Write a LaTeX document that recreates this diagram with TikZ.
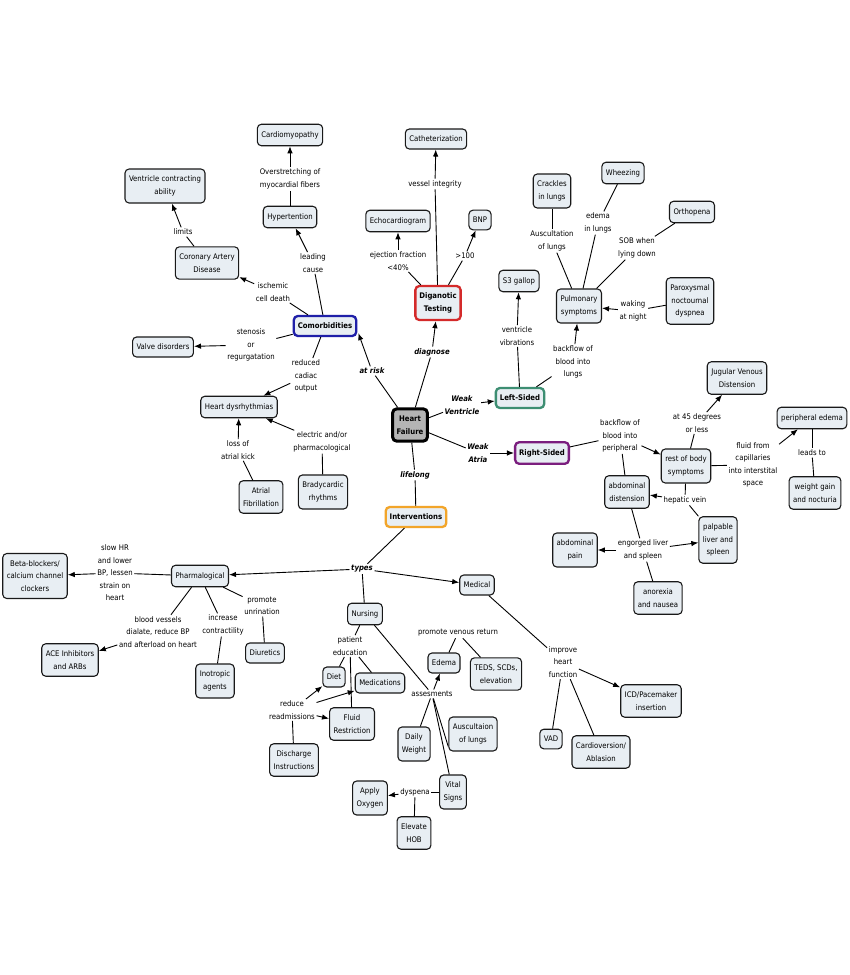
\documentclass[tikz,border=0pt]{standalone}
\usepackage{fontspec}
\setmainfont{DejaVu Sans Condensed}
\usetikzlibrary{arrows.meta}
\definecolor{nodefill}{HTML}{E8EEF3}
\definecolor{cblue}{HTML}{1F1FA8}
\definecolor{cred}{HTML}{D42A2A}
\definecolor{cgreen}{HTML}{3D8E72}
\definecolor{cpurple}{HTML}{7B1E7E}
\definecolor{corange}{HTML}{F2A52A}
\definecolor{hfgray}{HTML}{B4B4B4}
\begin{document}
\begin{tikzpicture}[x=1pt,y=-1pt,
 concept/.style={draw=black!90, line width=1.1pt, rounded corners=4pt, fill=nodefill, align=center,
   font=\fontsize{7.7}{12.5}\selectfont, inner xsep=4pt, inner ysep=7pt},
 main/.style={concept, line width=2.3pt, font=\bfseries\fontsize{7.7}{12.5}\selectfont},
 lab/.style={align=center, font=\fontsize{7.7}{12.5}\selectfont, inner sep=1.5pt},
 blab/.style={lab, font=\bfseries\itshape\fontsize{7.7}{12.5}\selectfont},
 conn/.style={line width=0.9pt},
 arr/.style={conn, -{Latex[length=7pt,width=5.5pt]}}
]
\path[use as bounding box, fill=white] (0,0) rectangle (850,975);

% concept nodes
\node[concept] (cardio) at (290,135) {Cardiomyopathy};
\node[concept] (vca) at (165,186) {Ventricle contracting\\ability};
\node[concept] (hyper) at (290,217) {Hypertention};
\node[concept] (cad) at (207,263) {Coronary Artery\\Disease};
\node[main, draw=cblue] (comor) at (325,326) {Comorbidities};
\node[concept] (valve) at (163,347) {Valve disorders};
\node[concept] (dys) at (239,407) {Heart dysrhythmias};
\node[concept] (afib) at (261,497) {Atrial\\Fibrillation};
\node[concept] (brady) at (323,492) {Bradycardic\\rhythms};
\node[concept] (cath) at (436,139) {Catheterization};
\node[concept] (echo) at (398,221) {Echocardiogram};
\node[concept] (bnp) at (480,220) {BNP};
\node[main, draw=cred] (diag) at (438,303) {Diganotic\\Testing};
\node[main, draw=black, line width=3pt, fill=hfgray] (hf) at (410,425) {Heart\\Failure};
\node[main, draw=cgreen] (left) at (520,398) {Left-Sided};
\node[main, draw=cpurple] (right) at (542,453) {Right-Sided};
\node[main, draw=corange] (inter) at (416,517) {Interventions};
\node[concept] (s3) at (519,281) {S3 gallop};
\node[concept] (crackles) at (552,191) {Crackles\\in lungs};
\node[concept] (wheez) at (623,173) {Wheezing};
\node[concept] (ortho) at (692,212) {Orthopena};
\node[concept] (pulm) at (579,306) {Pulmonary\\symptoms};
\node[concept] (parox) at (690,301) {Paroxysmal\\noctournal\\dyspnea};
\node[concept] (jvd) at (737,378) {Jugular Venous\\Distension};
\node[concept] (pedema) at (812,418) {peripheral edema};
\node[concept] (wgain) at (815,493) {weight gain\\and nocturia};
\node[concept] (rest) at (686,466) {rest of body\\symptoms};
\node[concept] (abdist) at (627,492) {abdominal\\distension};
\node[concept] (palp) at (718,540) {palpable\\liver and\\spleen};
\node[concept] (abpain) at (575,550) {abdominal\\pain};
\node[concept] (anorex) at (658,598) {anorexia\\and nausea};
\node[concept] (pharm) at (200,576) {Pharmalogical};
\node[concept] (beta) at (35,576) {Beta-blockers/\\calcium channel\\clockers};
\node[concept] (ace) at (70,660) {ACE Inhibitors\\and ARBs};
\node[concept] (diur) at (265,653) {Diuretics};
\node[concept] (inot) at (215,681) {Inotropic\\agents};
\node[concept] (nurs) at (365,614) {Nursing};
\node[concept] (med) at (477,585) {Medical};
\node[concept] (diet) at (334,677) {Diet};
\node[concept] (meds) at (380,683) {Medications};
\node[concept] (fluid) at (352,724) {Fluid\\Restriction};
\node[concept] (disch) at (294,760) {Discharge\\Instructions};
\node[concept] (edema) at (444,663) {Edema};
\node[concept] (teds) at (496,674) {TEDS, SCDs,\\elevation};
\node[concept] (daily) at (414,744) {Daily\\Weight};
\node[concept] (ausc) at (473,734) {Auscultaion\\of lungs};
\node[concept] (vital) at (453,792) {Vital\\Signs};
\node[concept] (oxy) at (370,798) {Apply\\Oxygen};
\node[concept] (hob) at (414,833) {Elevate\\HOB};
\node[concept] (icd) at (651,701) {ICD/Pacemaker\\insertion};
\node[concept] (vad) at (551,739) {VAD};
\node[concept] (cardv) at (601,752) {Cardioversion/\\Ablasion};

% link labels
\node[lab] (l1) at (290,179) {Overstretching of\\myocardial fibers};
\node[lab] (l2) at (183,232) {limits};
\node[lab] (l3) at (313,263) {leading\\cause};
\node[lab] (l4) at (273,292) {ischemic\\cell death};
\node[lab] (l5) at (251,345) {stenosis\\or\\regurgatation};
\node[lab] (l6) at (306,376) {reduced\\cadiac\\output};
\node[lab] (l7) at (238,450) {loss of\\atrial kick};
\node[lab] (l8) at (322,442) {electric and/or\\pharmacological};
\node[blab] (l9) at (372,371) {at risk};
\node[lab] (l10) at (435,184) {vessel integrity};
\node[lab] (l11) at (398,261) {ejection fraction\\<40\%};
\node[lab] (l12) at (465,256) {>100};
\node[blab] (l13) at (432,352) {diagnose};
\node[blab] (l14) at (462,405) {Weak\\Ventricle};
\node[blab] (l15) at (478,453) {Weak\\Atria};
\node[blab] (l16) at (415,475) {lifelong};
\node[lab] (l17) at (517,336) {ventricle\\vibrations};
\node[lab] (l18) at (552,241) {Auscultation\\of lungs};
\node[lab] (l19) at (598,223) {edema\\in lungs};
\node[lab] (l20) at (637,248) {SOB when\\lying down};
\node[lab] (l21) at (633,311) {waking\\at night};
\node[lab] (l22) at (573,362) {backflow of\\blood into\\lungs};
\node[lab] (l23) at (620,436) {backflow of\\blood into\\peripheral};
\node[lab] (l24) at (697,423) {at 45 degrees\\or less};
\node[lab] (l25) at (753,465) {fluid from\\capillaries\\into interstital\\space};
\node[lab] (l26) at (812,453) {leads to};
\node[lab] (l27) at (685,500) {hepatic vein};
\node[lab] (l28) at (643,550) {engorged liver\\and spleen};
\node[blab] (l29) at (362,569) {types};
\node[lab] (l30) at (115,573) {slow HR\\and lower\\BP, lessen\\strain on\\heart};
\node[lab] (l31) at (158,632) {blood vessels\\dialate, reduce BP\\and afterload on heart};
\node[lab] (l32) at (223,625) {increase\\contractility};
\node[lab] (l33) at (262,606) {promote\\unrination};
\node[lab] (l34) at (350,646) {patient\\education};
\node[lab] (l35) at (292,710) {reduce\\readmissions};
\node[lab] (l36) at (458,633) {promote venous return};
\node[lab] (l37) at (432,694) {assesments};
\node[lab] (l38) at (415,792) {dyspena};
\node[lab] (l39) at (563,662) {improve\\heart\\function};

% connectors: comorbidities
\draw[conn] (comor) -- (l3); \draw[arr] (l3) -- (hyper);
\draw[conn] (hyper) -- (l1); \draw[arr] (l1) -- (cardio);
\draw[conn] (comor) -- (l4); \draw[arr] (l4) -- (cad);
\draw[conn] (cad) -- (l2); \draw[arr] (l2) -- (vca);
\draw[conn] (comor) -- (l5); \draw[arr] (l5) -- (valve);
\draw[conn] (comor) -- (l6); \draw[arr] (l6) -- (dys);
\draw[conn] (afib) -- (l7); \draw[arr] (l7) -- (dys);
\draw[conn] (brady) -- (l8); \draw[arr] (l8) -- (dys);
\draw[conn] (hf) -- (l9); \draw[arr] (l9) -- ([xshift=1pt,yshift=4pt]comor.south east);
% diagnostics
\draw[conn] (hf) -- (l13); \draw[arr] (l13) -- (diag);
\draw[conn] (diag) -- (l10); \draw[arr] (l10) -- (cath);
\draw[conn] (diag) -- (l11); \draw[arr] (l11) -- (echo);
\draw[conn] (diag) -- (l12); \draw[arr] (l12) -- (bnp);
% left / right
\draw[conn] (hf) -- (l14); \draw[arr] (l14) -- (left);
\draw[conn] (hf) -- (l15); \draw[arr] (l15) -- (right);
\draw[conn] (hf) -- (l16); \draw[conn] (l16) -- (inter);
\draw[conn] (left) -- (l17); \draw[arr] (l17) -- (s3);
\draw[conn] (left) -- (l22); \draw[arr] (l22) -- (pulm);
\draw[conn] (pulm) -- (l18); \draw[conn] (l18) -- (crackles);
\draw[conn] (pulm) -- (l19); \draw[conn] (l19) -- (wheez);
\draw[conn] (pulm) -- (l20); \draw[conn] (l20) -- (ortho);
\draw[conn] (parox) -- (l21); \draw[arr] (l21) -- (pulm);
\draw[conn] (right) -- (l23); \draw[arr] (l23) -- (rest);
\draw[conn] (l23) -- (abdist);
\draw[conn] (rest) -- (l24); \draw[arr] (l24) -- (jvd);
\draw[conn] (rest) -- (l25); \draw[arr] (l25) -- (pedema);
\draw[conn] (pedema) -- (l26); \draw[conn] (l26) -- (wgain);
\draw[conn] (rest) -- (l27); \draw[arr] (l27) -- (abdist); \draw[conn] (l27) -- (palp);
\draw[conn] (abdist) -- (l28); \draw[arr] (l28) -- (abpain); \draw[arr] (l28) -- (palp);
\draw[conn] (l28) -- (anorex);
% interventions
\draw[conn] (inter) -- (l29);
\draw[arr] (l29) -- (pharm); \draw[arr] (l29) -- (med); \draw[conn] (l29) -- (nurs);
\draw[conn] (pharm) -- (l30); \draw[arr] (l30) -- (beta);
\draw[conn] (pharm) -- (l31); \draw[arr] (l31) -- (ace);
\draw[conn] (pharm) -- (l32); \draw[conn] (l32) -- (inot);
\draw[conn] (pharm) -- (l33); \draw[conn] (l33) -- (diur);
\draw[conn] (nurs) -- (l34); \draw[conn] (l34) -- (diet); \draw[conn] (l34) -- (meds);
\draw[conn] (l34) -- (fluid);
\draw[conn] (disch) -- (l35); \draw[arr] (l35) -- (diet); \draw[arr] (l35) -- (meds);
\draw[arr] (l35) -- (fluid);
\draw[conn] (nurs) -- (l37); \draw[arr] (l37) -- (edema); \draw[conn] (l37) -- (daily);
\draw[conn] (l37) -- ([yshift=5pt]ausc.south west); \draw[conn] (l37) -- (vital);
\draw[conn] (edema) -- (l36); \draw[conn] (l36) -- (teds);
\draw[conn] (vital) -- (l38); \draw[arr] (l38) -- (oxy); \draw[conn] (l38) -- (hob);
\draw[conn] (med) -- (l39); \draw[arr] (l39) -- (icd); \draw[conn] (l39) -- (vad);
\draw[conn] (l39) -- (cardv);
\end{tikzpicture}
\end{document}
